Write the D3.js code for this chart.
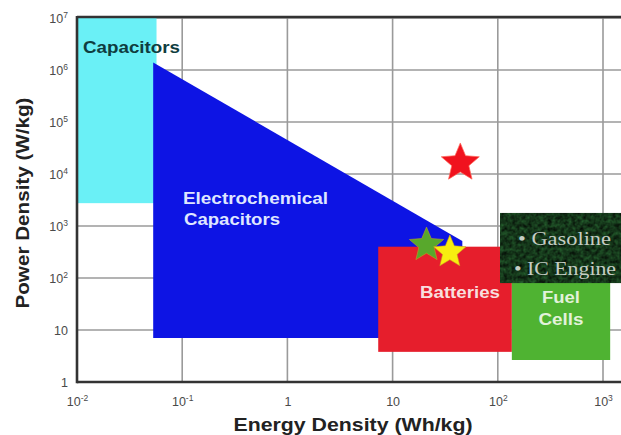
<!DOCTYPE html>
<html>
<head>
<meta charset="utf-8">
<script src="https://cdn.jsdelivr.net/npm/d3@7"></script>
<style>
  html, body { margin: 0; padding: 0; background: #fff; }
  svg { display: block; }
  .tick text { font-family: Arial, "Liberation Sans", sans-serif; fill: #4a4a4a; }
</style>
</head>
<body>
<svg id="chart" width="621" height="435"></svg>
<script>
// Axis ticks (log decades)
const xTicks = [1e-2, 1e-1, 1, 10, 1e2, 1e3];
const yTicks = [1, 10, 1e2, 1e3, 1e4, 1e5, 1e6, 1e7];

// Technology regions: energy density (Wh/kg) and power density (W/kg) ranges
const capacitorsX = [0.01, 0.057];
const capacitorsY = [2750, 1e7];

const ecCapPolygon = [[0.053, 1.4e6], [46, 515], [46, 7], [0.053, 7]];

const batteriesX = [7.3, 136];
const batteriesY = [3.8, 400];

const fuelCellsX = [136, 1170];
const fuelCellsY = [2.65, 140];

const gasolineX = [105, 1e4];
const gasolineY = [80, 1780];

// Star markers: energy density, power density
const starNames = ["target", "green", "yellow"];
const starX = [44, 21, 35];
const starY = [16300, 430, 316];
const starColors = ["#f0121e", "#58a82c", "#f7ee10"];
const starRadius = [20, 18, 17];

const svg = d3.select("#chart");
const mLeft = 77, mRight = 603, mTop = 18, mBottom = 382;

const x = d3.scaleLog().domain([1e-2, 1e3]).range([mLeft, mRight]);
const y = d3.scaleLog().domain([1, 1e7]).range([mBottom, mTop]);

// mottled texture for the gasoline box
const defs = svg.append("defs");
const filt = defs.append("filter").attr("id", "mottle")
  .attr("x", 0).attr("y", 0).attr("width", 1).attr("height", 1)
  .attr("color-interpolation-filters", "sRGB");
filt.append("feTurbulence").attr("type", "fractalNoise").attr("baseFrequency", 0.25).attr("numOctaves", 3).attr("seed", 4).attr("result", "noise");
filt.append("feColorMatrix").attr("in", "noise").attr("type", "matrix")
  .attr("values", "0.16 0 0 0 0.0  0.42 0 0 0 0.0  0.2 0 0 0 0.0  0 0 0 0 1").attr("result", "tint");
filt.append("feComposite").attr("in", "tint").attr("in2", "SourceGraphic").attr("operator", "in");

// gridlines
const grid = svg.append("g");
grid.selectAll("line.v").data(xTicks).join("line")
  .attr("x1", d => x(d)).attr("x2", d => x(d)).attr("y1", mTop).attr("y2", mBottom)
  .attr("stroke", "#9a9a9a").attr("stroke-width", 1.6);
grid.selectAll("line.h").data(yTicks).join("line")
  .attr("x1", mLeft).attr("x2", 621).attr("y1", d => y(d)).attr("y2", d => y(d))
  .attr("stroke", "#9a9a9a").attr("stroke-width", 1.6);

// regions
const rect = (xs, ys) => ({ x: x(xs[0]), y: y(ys[1]), w: x(xs[1]) - x(xs[0]), h: y(ys[0]) - y(ys[1]) });

const cap = rect(capacitorsX, capacitorsY);
svg.append("rect").attr("x", cap.x).attr("y", cap.y).attr("width", cap.w).attr("height", cap.h).attr("fill", "#6af0f6");

svg.append("polygon")
  .attr("points", ecCapPolygon.map(p => [x(p[0]), y(p[1])].join(",")).join(" "))
  .attr("fill", "#0d14e4");

const bat = rect(batteriesX, batteriesY);
svg.append("rect").attr("x", bat.x).attr("y", bat.y).attr("width", bat.w).attr("height", bat.h).attr("fill", "#e61e2c");

const fc = rect(fuelCellsX, fuelCellsY);
svg.append("rect").attr("x", fc.x).attr("y", fc.y).attr("width", fc.w).attr("height", fc.h).attr("fill", "#4fb332");

const gas = rect(gasolineX, gasolineY);
svg.append("rect").attr("x", gas.x).attr("y", gas.y).attr("width", gas.w).attr("height", gas.h).attr("fill", "#0c1a10");
svg.append("rect").attr("x", gas.x).attr("y", gas.y).attr("width", gas.w).attr("height", gas.h).attr("fill", "#fff").attr("filter", "url(#mottle)");

// stars
const starPath = r => {
  const pts = [];
  for (let i = 0; i < 10; i++) {
    const a = -Math.PI / 2 + i * Math.PI / 5;
    const rr = i % 2 === 0 ? r : r * 0.45;
    pts.push([rr * Math.cos(a), rr * Math.sin(a)]);
  }
  return "M" + pts.map(p => p.join(",")).join("L") + "Z";
};
svg.selectAll("path.star").data(starNames).join("path")
  .attr("class", "star")
  .attr("transform", (d, i) => `translate(${x(starX[i])},${y(starY[i])})`)
  .attr("d", (d, i) => starPath(starRadius[i]))
  .attr("fill", (d, i) => starColors[i])
  .attr("stroke", (d, i) => i === 0 ? "#ff6a5a" : "#c9a020")
  .attr("stroke-width", (d, i) => i === 0 ? 1 : 0.8)
  .attr("stroke-opacity", 0.7);

// region labels (wide set type)
const sans = "Arial, 'Liberation Sans', sans-serif";
const label = (tx, ty, txt, fill, size, len, anchor) => svg.append("text")
  .attr("x", tx).attr("y", ty).text(txt)
  .attr("font-family", sans).attr("font-weight", "bold")
  .attr("font-size", size).attr("fill", fill).attr("text-anchor", anchor || "start")
  .attr("textLength", len).attr("lengthAdjust", "spacingAndGlyphs");

label(83, 53, "Capacitors", "#0f3d40", 16.5, 97);
label(183, 204, "Electrochemical", "#dfe6ff", 16, 145);
label(184, 225, "Capacitors", "#dfe6ff", 16, 96);
label(460, 298, "Batteries", "#f8dede", 16, 80, "middle");
label(561, 303, "Fuel", "#e2f2da", 16, 38, "middle");
label(561, 325, "Cells", "#e2f2da", 16, 45, "middle");

const serif = "'Liberation Serif', 'DejaVu Serif', serif";
svg.append("text").attr("x", 518).attr("y", 245).attr("font-family", serif).attr("font-size", 19).attr("fill", "#c5cdc4")
  .attr("textLength", 93).attr("lengthAdjust", "spacingAndGlyphs").text("• Gasoline");
svg.append("text").attr("x", 514).attr("y", 275).attr("font-family", serif).attr("font-size", 19).attr("fill", "#c5cdc4")
  .attr("textLength", 102).attr("lengthAdjust", "spacingAndGlyphs").text("• IC Engine");

// axes with superscripted decade labels
const supFormat = (sel) => {
  sel.selectAll(".tick text").each(function (d) {
    const e = Math.round(Math.log10(d));
    const t = d3.select(this).text("");
    if (e === 0) { t.text("1"); return; }
    if (e === 1) { t.text("10"); return; }
    t.append("tspan").text("10");
    t.append("tspan").attr("dy", "-0.55em").attr("font-size", "8.5px").text(e < 0 ? "-" + (-e) : e);
  });
};

const xAxis = svg.append("g").attr("transform", `translate(0,${mBottom})`)
  .call(d3.axisBottom(x).tickValues(xTicks).tickSize(0).tickPadding(15));
xAxis.select(".domain").remove();
xAxis.selectAll(".tick text").attr("font-size", 12.5);
supFormat(xAxis);

const yAxis = svg.append("g").attr("transform", `translate(${mLeft},0)`)
  .call(d3.axisLeft(y).tickValues(yTicks).tickSize(0).tickPadding(9));
yAxis.select(".domain").remove();
yAxis.selectAll(".tick text").attr("font-size", 12.5);
supFormat(yAxis);

// frame
svg.append("line").attr("x1", mLeft).attr("x2", 621).attr("y1", mBottom).attr("y2", mBottom).attr("stroke", "#333").attr("stroke-width", 2.6);
svg.append("line").attr("x1", mLeft).attr("x2", 621).attr("y1", mTop - 1).attr("y2", mTop - 1).attr("stroke", "#333").attr("stroke-width", 2.4);
svg.append("line").attr("x1", mLeft).attr("x2", mLeft).attr("y1", mTop - 2).attr("y2", mBottom + 1.3).attr("stroke", "#333").attr("stroke-width", 2.6);

// axis titles
svg.append("text").attr("x", 353).attr("y", 431).attr("text-anchor", "middle")
  .attr("font-family", sans).attr("font-weight", "bold").attr("font-size", 18).attr("fill", "#222")
  .attr("textLength", 239).attr("lengthAdjust", "spacingAndGlyphs")
  .text("Energy Density (Wh/kg)");
svg.append("text").attr("transform", "translate(29,203) rotate(-90)").attr("text-anchor", "middle")
  .attr("font-family", sans).attr("font-weight", "bold").attr("font-size", 18).attr("fill", "#222")
  .attr("textLength", 211).attr("lengthAdjust", "spacingAndGlyphs")
  .text("Power Density (W/kg)");
</script>
</body>
</html>
